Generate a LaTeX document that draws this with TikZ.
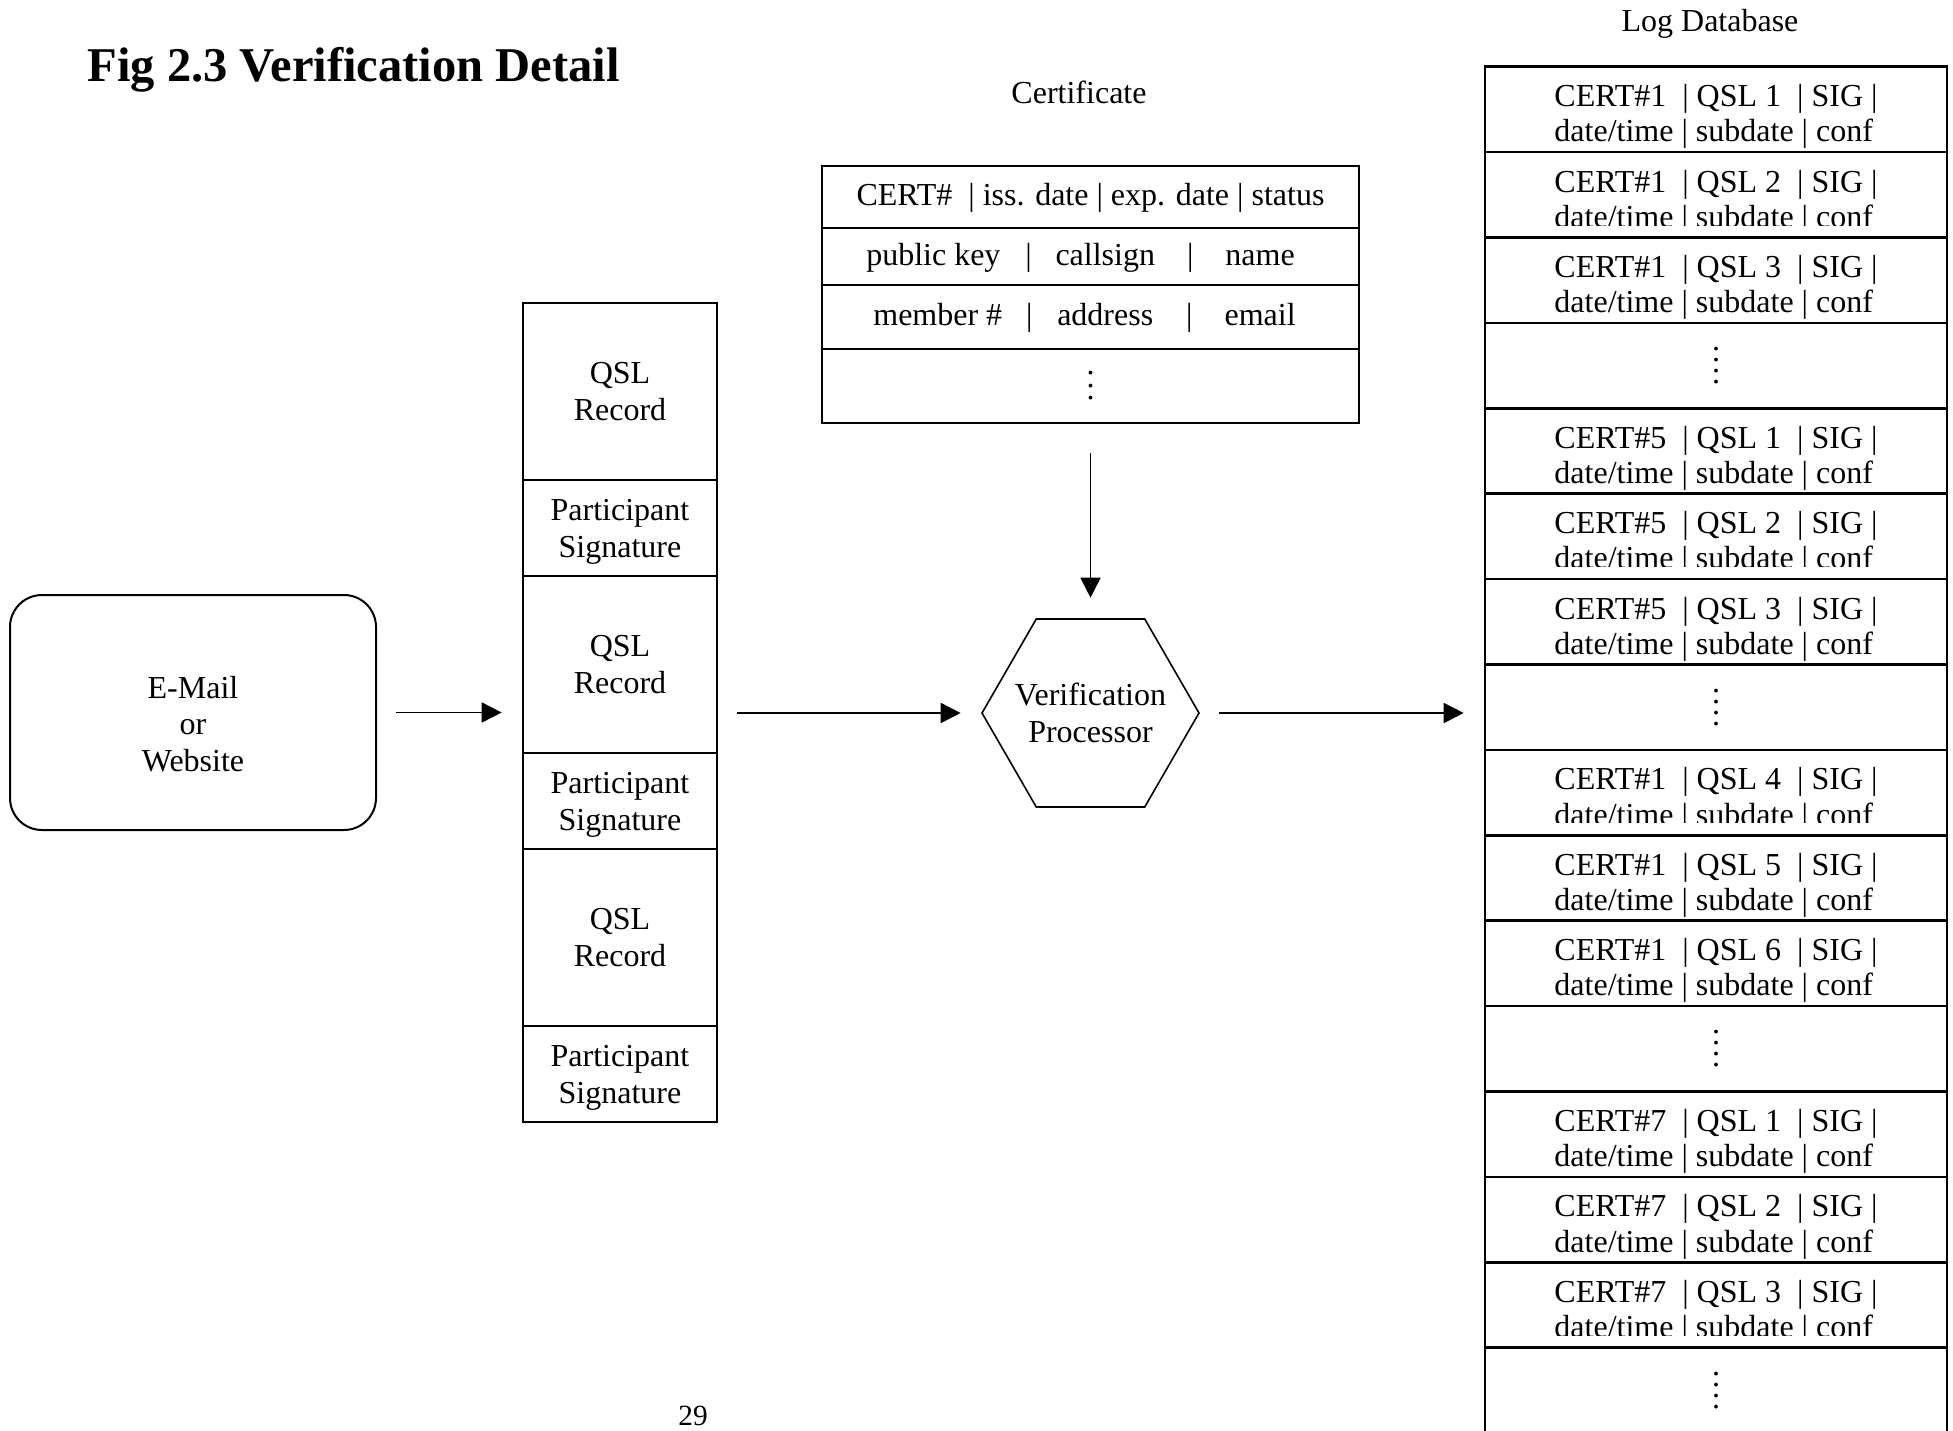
\documentclass[tikz,border=0pt]{standalone}
\usepackage{fontspec}
\setmainfont{Liberation Serif}
\usetikzlibrary{arrows.meta,positioning,shapes.geometric}

\def\pxu{0.375pt}
\newcommand{\logentry}[2]{\begin{tabular}[t]{@{}l@{}}CERT\##1\ \ | QSL #2\ \ | SIG |\\date/time | subdate | conf\end{tabular}}
\newcommand{\logdots}{\vbox{\baselineskip4.1pt\hbox{.}\hbox{.}\hbox{.}\hbox{.}}}
\newcommand{\certdots}{\vbox{\baselineskip4.7pt\hbox{.}\hbox{.}\hbox{.}}}

\begin{document}
\begin{tikzpicture}[x=0.375pt,y=-0.375pt]
\tikzset{every node/.style={font=\fontsize{12}{13.8}\selectfont}}
\tikzset{box/.style={draw,line width=.75pt,inner sep=0pt,outer sep=0pt}}
\tikzset{qslbox/.style={box,minimum width=194*\pxu,minimum height=177*\pxu,align=center}}
\tikzset{sigbox/.style={box,minimum width=194*\pxu,minimum height=96*\pxu,align=center,text depth=-1.8pt}}
\tikzset{certrow/.style={box,minimum width=537*\pxu,text height=.75em,text depth=.1em}}
\tikzset{logrow/.style={box,line width=1pt,minimum width=462*\pxu,minimum height=85.4*\pxu}}
\tikzset{logtext/.style={anchor=base,inner sep=0pt,font=\fontsize{12}{13.2}\selectfont}}
\tikzset{flow/.style={line width=.65pt,-{Triangle[length=7.5pt,width=7.5pt]},shorten <=7.5pt,shorten >=8pt}}

\useasboundingbox (0,0) rectangle (1953,1431);

\node[anchor=base west,inner sep=0pt,font=\fontsize{18.2}{21}\selectfont\bfseries] (title) at (87,81) {Fig 2.3 Verification Detail};

\node[box,rounded corners=12pt,minimum width=366*\pxu,minimum height=235*\pxu] (mail) at (193,712.5) {};
\node[align=center] (mailtext) at (193,724) {E-Mail\\or\\Website};

\node[qslbox] (q1) at (620,391.5) {QSL\\Record};
\node[sigbox,below=0pt of q1] (s1) {Participant\\Signature};
\node[qslbox,below=0pt of s1] (q2) {QSL\\Record};
\node[sigbox,below=0pt of q2] (s2) {Participant\\Signature};
\node[qslbox,below=0pt of s2] (q3) {QSL\\Record};
\node[sigbox,below=0pt of q3] (s3) {Participant\\Signature};

\node[anchor=base] (certlabel) at (1079,103) {Certificate};
\node[certrow,minimum height=62*\pxu] (c1) at (1090.5,197) {CERT\#\ \ | iss. date | exp. date | status};
\node[certrow,minimum height=57*\pxu,below=0pt of c1] (c2) {public key\hspace{.78em}|\hspace{.74em}callsign\hspace{1em}|\hspace{1em}name\kern7.5pt};
\node[certrow,minimum height=64*\pxu,below=0pt of c2] (c3) {member \#\hspace{.75em}|\hspace{.77em}address\hspace{1.03em}|\hspace{1em}email\kern4.5pt};
\node[certrow,minimum height=74*\pxu,below=0pt of c3] (c4) {};
\node (certdots) at (c4) {\certdots};

\node[draw,line width=.6pt,regular polygon,regular polygon sides=6,minimum size=217*\pxu,inner sep=0pt,outer sep=0pt] (vp) at (1090.5,713) {};
\node[align=center] (vptext) at (vp) {Verification\\Processor};

\node[anchor=base] (loglabel) at (1710,32) {Log Database};
\foreach \row in {0,...,15}
  \node[logrow] (log\row) at (1716,109.4+85.4*\row) {};
\foreach \row/\cert/\qsl/\cut in {0/1/1/85.4,1/1/2/73,2/1/3/85.4,4/5/1/85.4,5/5/2/73,6/5/3/85.4,8/1/4/73,9/1/5/85.4,10/1/6/85.4,12/7/1/85.4,13/7/2/85.4,14/7/3/73}{
  \begin{scope}
    \clip (1485,66.7+85.4*\row) rectangle (1947,66.7+85.4*\row+\cut);
    \node[logtext] (entry\row) at (1716,106.7+85.4*\row) {\logentry{\cert}{\qsl}};
  \end{scope}
}
\foreach \row in {3,7,11,15}
  \node (dots\row) at (log\row) {\logdots};

\draw[flow] (mail.east) -- (mail.east -| q2.west);
\draw[flow] (q2.east |- vp.west) -- (vp.west);
\draw[flow] (vp.east) -- (vp.east -| log0.west);
\draw[flow,shorten <=11.25pt] (c4.south) -- (vp.north);

\node[anchor=base,font=\fontsize{11}{13}\selectfont] (page) at (693,1425) {29};
\end{tikzpicture}
\end{document}
